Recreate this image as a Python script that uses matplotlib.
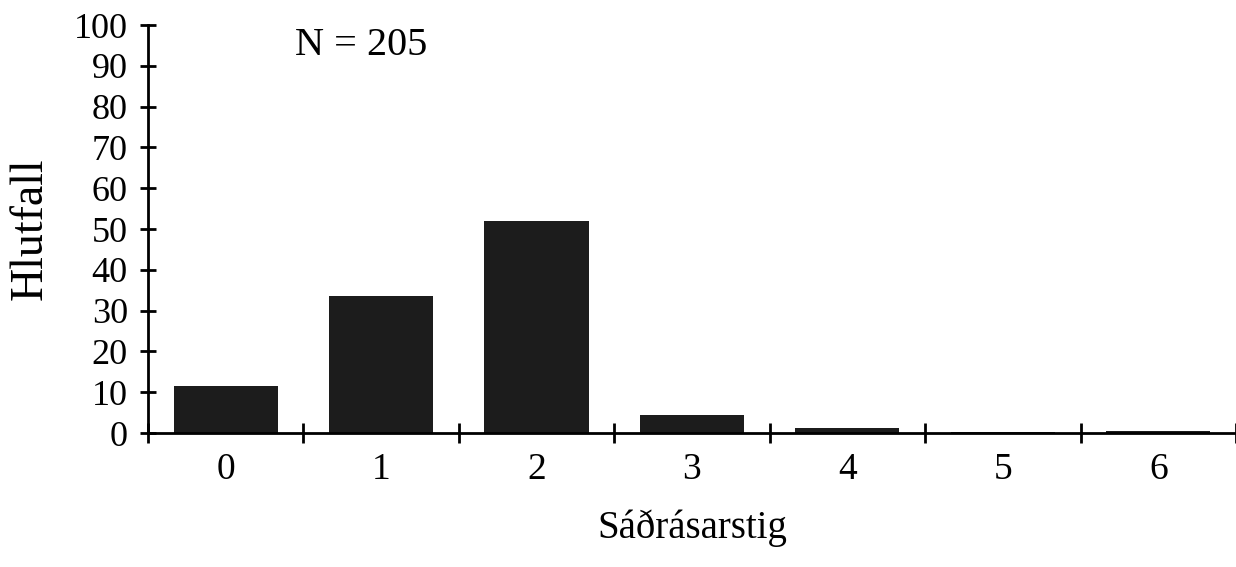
import matplotlib.pyplot as plt
import numpy as np

# Sáðrásarstig (categories) and Hlutfall (%)
stig = ["0", "1", "2", "3", "4", "5", "6"]
hlutfall = [11.6, 33.5, 52.0, 4.5, 1.2, 0.3, 0.5]
y_ticks = [0, 10, 20, 30, 40, 50, 60, 70, 80, 90, 100]

plt.rcParams['font.family'] = ['Liberation Serif', 'DejaVu Serif']

fig = plt.figure(figsize=(12.36, 5.67), dpi=100)
ax = fig.add_axes([0.1197, 0.2363, 0.8803, 0.7196])

x = np.arange(len(stig))
ax.bar(x, hlutfall, width=0.67, color='#1c1c1c', zorder=2)

ax.set_xlim(-0.5, len(stig) - 0.5)
ax.set_ylim(0, 100)

# y axis
ax.set_yticks(y_ticks)
ax.set_yticklabels([str(v) for v in y_ticks], fontsize=26)
ax.tick_params(axis='y', which='major', direction='inout', length=11, width=2, pad=9)

# x axis: boundary ticks without labels, labels at bar centres
ax.set_xticks(np.arange(len(stig) + 1) - 0.5)
ax.set_xticklabels([])
ax.tick_params(axis='x', which='major', direction='inout', length=14, width=2)
ax.set_xticks(x, minor=True)
ax.set_xticklabels(stig, minor=True, fontsize=27)
ax.tick_params(axis='x', which='minor', length=0, pad=14)

for side in ['top', 'right']:
  ax.spines[side].set_visible(False)
for side in ['left', 'bottom']:
  ax.spines[side].set_linewidth(2)

ax.set_xlabel('Sáðrásarstig', fontsize=28, labelpad=16)
ax.set_ylabel('Hlutfall', fontsize=33, labelpad=16)

ax.text(0.445, 95, 'N = 205', fontsize=29, va='center', ha='left')

fig.savefig('out.png', dpi=100)
